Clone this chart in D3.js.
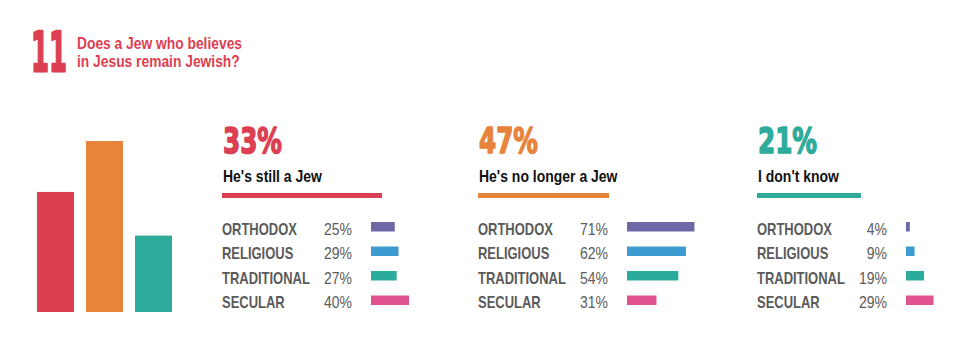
<!DOCTYPE html>
<html>
<head>
<meta charset="utf-8">
<script src="https://cdn.jsdelivr.net/npm/d3@7"></script>
<style>
  body { margin: 0; background: #fff; }
  svg { display: block; }
</style>
</head>
<body>
<svg id="chart" width="967" height="351"></svg>
<script>
// data
var answers = ["He's still a Jew", "He's no longer a Jew", "I don't know"];
var totals = [33, 47, 21];
var groups = ["ORTHODOX", "RELIGIOUS", "TRADITIONAL", "SECULAR"];
var stillJew = [25, 29, 27, 40];
var noLonger = [71, 62, 54, 31];
var dontKnow = [4, 9, 19, 29];

var answerColors = ["#dc3f51", "#e8833b", "#2eab9b"];
var groupColors = ["#6d69a7", "#3e9bd0", "#2bab9a", "#e1538f"];

// text styles; each is squeezed horizontally so a sample string fits its width
var styles = {
  big:   { family: "DejaVu Sans", weight: "bold", size: 36, sample: "33%", width: 59, stroke: 1.6 },
  num:   { family: "DejaVu Sans", weight: "bold", size: 55, sample: "11", width: 36, stroke: 2.4 },
  title: { family: "Liberation Sans", weight: "bold", size: 16.6, sample: "Does a Jew who believes", width: 165 },
  sub:   { family: "Liberation Sans", weight: "bold", size: 16, sample: "He's still a Jew", width: 99 },
  lab:   { family: "Liberation Sans", weight: "bold", size: 16, sample: "ORTHODOX", width: 75 },
  val:   { family: "Liberation Sans", weight: "normal", size: 16, sample: "25%", width: 28 }
};

function drawChart() {
  var svg = d3.select("#chart");
  var byAnswer = [stillJew, noLonger, dontKnow];

  // work out the squeeze for each style
  Object.keys(styles).forEach(function (k) {
    var s = styles[k];
    var t = svg.append("text")
      .style("font-family", s.family)
      .style("font-weight", s.weight)
      .style("font-size", s.size + "px")
      .text(s.sample);
    s.k = s.width / t.node().getComputedTextLength();
    t.remove();
  });

  function txt(parent, style, x, y, str, fill, anchor) {
    var s = styles[style];
    var t = parent.append("text")
      .attr("transform", "translate(" + x + "," + y + ") scale(" + s.k + ",1)")
      .attr("text-anchor", anchor || "start")
      .attr("fill", fill)
      .style("font-family", s.family)
      .style("font-weight", s.weight)
      .style("font-size", s.size + "px")
      .text(str);
    if (s.stroke) {
      t.attr("stroke", fill).attr("stroke-width", s.stroke).attr("stroke-linejoin", "round");
    }
    return t;
  }

  // title
  txt(svg, "num", 31, 71, "11", "#dc3f51");
  txt(svg, "title", 77, 48.5, "Does a Jew who believes", "#dc3f51");
  txt(svg, "title", 77, 67, "in Jesus remain Jewish?", "#dc3f51");

  // left overview bars
  var x = d3.scaleBand().domain(answers).range([37, 172]).paddingInner(0.245);
  var y = d3.scaleLinear().domain([0, 47]).range([312, 141]);

  svg.append("g")
    .selectAll("rect")
    .data(totals)
    .enter()
    .append("rect")
    .attr("x", function (d, i) { return x(answers[i]); })
    .attr("y", function (d) { return y(d); })
    .attr("width", x.bandwidth())
    .attr("height", function (d) { return y(0) - y(d); })
    .attr("fill", function (d, i) { return answerColors[i]; });

  // panels
  var panelX = [222, 478, 757];
  var lineW = [160, 131, 104];
  var rowY = d3.scaleBand().domain(groups).range([210, 308]).paddingInner(0);
  var barW = d3.scaleLinear().domain([0, 100]).range([0, 95]);

  answers.forEach(function (a, k) {
    var g = svg.append("g")
      .attr("transform", "translate(" + panelX[k] + ",0)");

    txt(g, "big", 1, 152.5, totals[k] + "%", answerColors[k]);
    txt(g, "sub", 1, 182, a, "#111");

    g.append("rect")
      .attr("x", 0)
      .attr("y", 193)
      .attr("width", lineW[k])
      .attr("height", 5)
      .attr("fill", answerColors[k]);

    byAnswer[k].forEach(function (d, i) {
      var ry = rowY(groups[i]) + rowY.bandwidth();
      txt(g, "lab", 0, ry, groups[i], "#5b5b5b");
      txt(g, "val", 130, ry, d + "%", "#5b5b5b", "end");
      g.append("rect")
        .attr("x", 149)
        .attr("y", ry - 12.5)
        .attr("width", barW(d))
        .attr("height", 9.5)
        .attr("fill", groupColors[i]);
    });
  });
}

drawChart();
</script>
</body>
</html>
